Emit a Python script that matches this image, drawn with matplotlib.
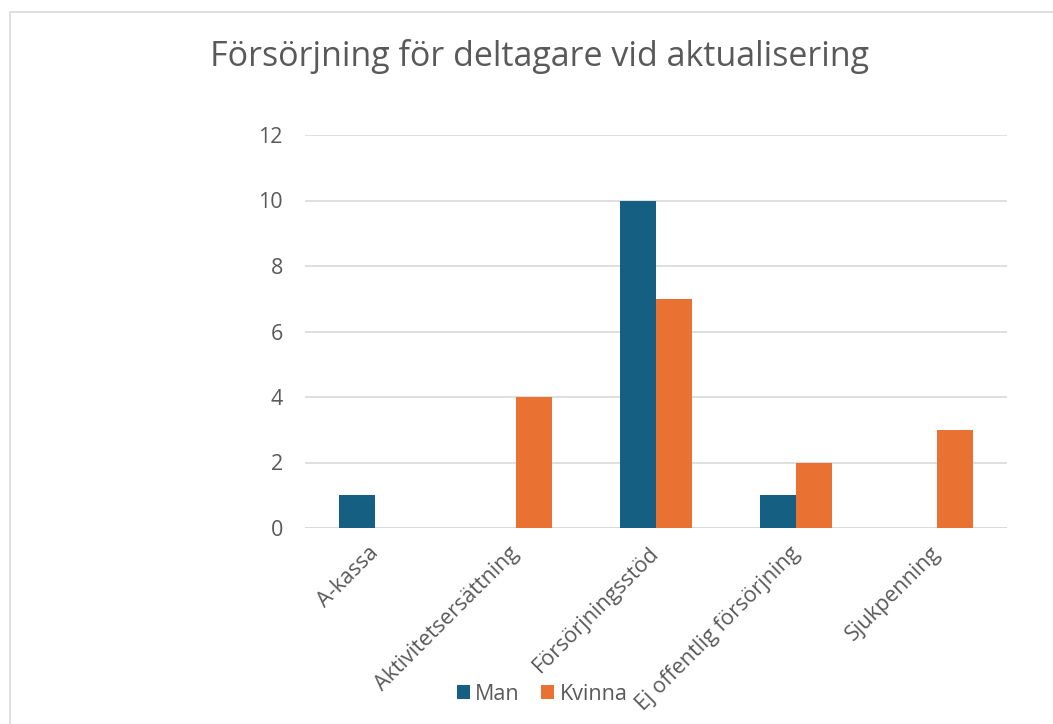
import numpy as np
import matplotlib.pyplot as plt
from matplotlib.patches import Rectangle

plt.rcParams['font.family'] = ['Open Sans', 'DejaVu Sans']

categories = ["A-kassa", "Aktivitetsersättning", "Försörjningsstöd",
              "Ej offentlig försörjning", "Sjukpenning"]
man = [1, 0, 10, 1, 0]
kvinna = [0, 4, 7, 2, 3]
series_names = ["Man", "Kvinna"]
yticks = [0, 2, 4, 6, 8, 10, 12]

c_man = "#156082"
c_kvinna = "#E97132"
txt = "#595959"
grid = "#d9d9d9"

fig = plt.figure(figsize=(10.53, 7.24), dpi=100)
# chart-area border (runs off the right and bottom edges)
fig.patches.append(Rectangle((10/1053, -0.1), 1.2, 1 - 12/724 + 0.1,
                             transform=fig.transFigure, fill=False,
                             edgecolor=grid, linewidth=1.2))

ax = fig.add_axes([305/1053, 1 - 528/724, 702/1053, 393/724])
x = np.arange(len(categories))
w = 0.256
ax.bar(x - w/2, man, w, color=c_man, label=series_names[0], zorder=3)
ax.bar(x + w/2, kvinna, w, color=c_kvinna, label=series_names[1], zorder=3)

ax.set_xlim(-0.5, len(categories) - 0.5)
ax.set_ylim(0, 12)
ax.set_yticks(yticks)
ax.yaxis.grid(True, color=grid, linewidth=1.2, zorder=0)
for s in ax.spines.values():
    s.set_visible(False)
ax.axhline(0, color=grid, linewidth=1.2, zorder=2)
ax.tick_params(axis='y', length=0, pad=16, labelsize=15.5, labelcolor=txt)
ax.tick_params(axis='x', length=0, pad=16, labelsize=15.5, labelcolor=txt)
ax.set_xticks(x)
ax.set_xticklabels(categories, rotation=45, ha='right', va='center',
                   rotation_mode='anchor')

fig.suptitle("Försörjning för deltagare vid aktualisering", x=539/1053,
             y=1 - 57/724, va='center', fontsize=24.5, color=txt)

fig.legend(loc='center', bbox_to_anchor=(542/1053, 1 - 694/724), ncol=2,
           frameon=False, fontsize=15.5, labelcolor=txt, handlelength=0.6,
           handleheight=0.6, handletextpad=0.25, columnspacing=1.0)

fig.savefig("out.png", dpi=100)
